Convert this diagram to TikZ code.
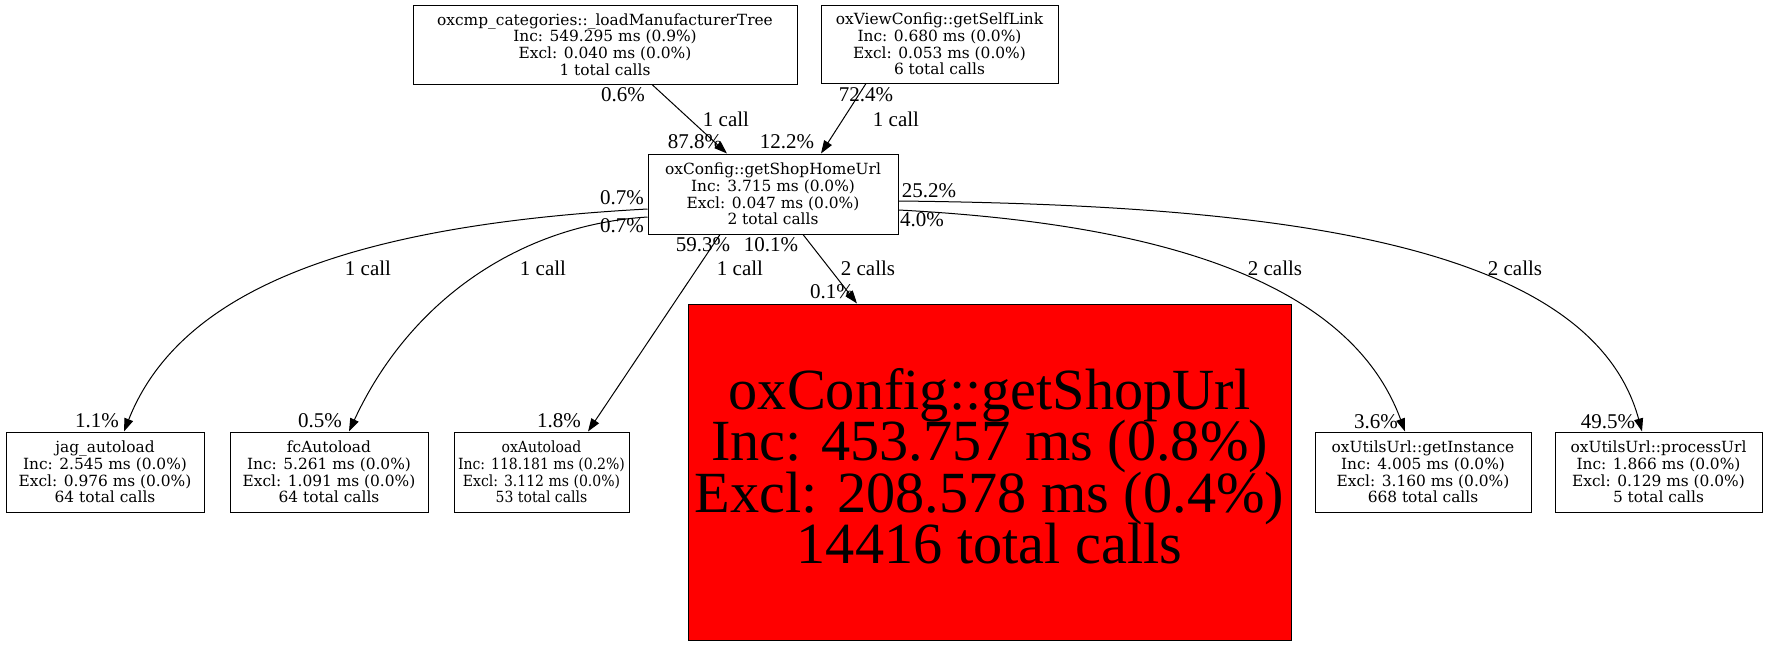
\documentclass[tikz,border=0pt]{standalone}
\usepackage{fontspec}
\setmainfont{Liberation Serif}
\newfontfamily\nodefont{DejaVu Serif}
\newfontfamily\nodefontn[FakeStretch=0.91]{DejaVu Serif}
\usetikzlibrary{arrows.meta}
\tikzset{
  box/.style={draw, line width=1pt, inner sep=0pt, align=center,
    font=\nodefont\fontsize{15.4}{16.7}\selectfont},
  narrowbox/.style={box, font=\nodefontn\fontsize{15.4}{16.7}\selectfont},
  bigbox/.style={draw, line width=1pt, inner sep=0pt, fill=red},
  bigtext/.style={inner sep=0pt, align=center,
    font={\fontsize{58.3}{51.5}\selectfont\lineskiplimit=-100pt\relax}},
  lab/.style={inner sep=0pt, font=\fontsize{21}{24}\selectfont},
  arr/.style={-{Triangle[length=13pt,width=9pt]}, line width=1pt},
}
\begin{document}
\begin{tikzpicture}[x=1pt,y=-1pt]
\useasboundingbox (0,0) rectangle (1768,645);
\fill[white] (0,0) rectangle (1768,645);
% nodes
\node[box, minimum width=384pt, minimum height=79pt] (A) at (605,44.5)
  {oxcmp\_categories::\_loadManufacturerTree\\Inc: 549.295 ms (0.9\%)\\Excl: 0.040 ms (0.0\%)\\1 total calls};
\node[box, minimum width=237pt, minimum height=78pt] (B) at (939.5,44)
  {oxViewConfig::getSelfLink\\Inc: 0.680 ms (0.0\%)\\Excl: 0.053 ms (0.0\%)\\6 total calls};
\node[box, minimum width=250pt, minimum height=80pt] (C) at (773,194)
  {oxConfig::getShopHomeUrl\\Inc: 3.715 ms (0.0\%)\\Excl: 0.047 ms (0.0\%)\\2 total calls};
\node[box, minimum width=198pt, minimum height=80pt] (jag) at (105,472)
  {jag\_autoload\\Inc: 2.545 ms (0.0\%)\\Excl: 0.976 ms (0.0\%)\\64 total calls};
\node[box, minimum width=198pt, minimum height=80pt] (fc) at (329,472)
  {fcAutoload\\Inc: 5.261 ms (0.0\%)\\Excl: 1.091 ms (0.0\%)\\64 total calls};
\node[narrowbox, minimum width=175pt, minimum height=80pt] (ox) at (541.5,472)
  {oxAutoload\\Inc: 118.181 ms (0.2\%)\\Excl: 3.112 ms (0.0\%)\\53 total calls};
\node[bigbox, minimum width=603pt, minimum height=336pt] (red) at (989.5,472) {};
\node[bigtext] (redtext) at ([yshift=5.5pt]red.center)
  {oxConfig::getShopUrl\\Inc: 453.757 ms (0.8\%)\\Excl: 208.578 ms (0.4\%)\\14416 total calls};
\node[box, minimum width=216pt, minimum height=80pt] (gI) at (1423,472)
  {oxUtilsUrl::getInstance\\Inc: 4.005 ms (0.0\%)\\Excl: 3.160 ms (0.0\%)\\668 total calls};
\node[box, minimum width=207pt, minimum height=80pt] (pU) at (1658.5,472)
  {oxUtilsUrl::processUrl\\Inc: 1.866 ms (0.0\%)\\Excl: 0.129 ms (0.0\%)\\5 total calls};
% edges
\draw[arr] ([xshift=47pt]A.south) -- ([xshift=-46pt]C.north);
\draw[arr] ([xshift=-73.5pt]B.south) -- ([xshift=48pt]C.north);
\draw[arr] ([yshift=-15pt]C.west) .. controls (350,225) and (180,290) .. ([xshift=19pt]jag.north);
\draw[arr] ([yshift=-23pt]C.west) .. controls (520,225) and (410,300) .. ([xshift=20pt]fc.north);
\draw[arr] ([xshift=-53pt]C.south) -- ([xshift=46.5pt]ox.north);
\draw[arr] ([xshift=30pt]C.south) -- ([xshift=-132.5pt]red.north);
\draw[arr] ([yshift=-16pt]C.east) .. controls (1125,222) and (1345,268) .. ([xshift=-18pt]gI.north);
\draw[arr] ([yshift=-7pt]C.east) .. controls (1270,205) and (1590,240) .. ([xshift=-16.5pt]pU.north);
% labels
\node[lab] (l1) at (623,95) {0.6\%};
\node[lab] (l2) at (726,119) {1 call};
\node[lab] (l3) at (695,142) {87.8\%};
\node[lab] (l4) at (866,95) {72.4\%};
\node[lab] (l5) at (896,119) {1 call};
\node[lab] (l6) at (787,142) {12.2\%};
\node[lab] (l7) at (622,198) {0.7\%};
\node[lab] (l8) at (622,226) {0.7\%};
\node[lab] (l9) at (929,191) {25.2\%};
\node[lab] (l10) at (922,220) {4.0\%};
\node[lab] (l11) at (703,245) {59.3\%};
\node[lab] (l12) at (771,245) {10.1\%};
\node[lab] (l13) at (368,268) {1 call};
\node[lab] (l14) at (543,268) {1 call};
\node[lab] (l15) at (740,268) {1 call};
\node[lab] (l16) at (868,268) {2 calls};
\node[lab] (l17) at (832,292) {0.1\%};
\node[lab] (l18) at (1275,268) {2 calls};
\node[lab] (l19) at (1515,268) {2 calls};
\node[lab] (l20) at (97,421) {1.1\%};
\node[lab] (l21) at (320,421) {0.5\%};
\node[lab] (l22) at (559,421) {1.8\%};
\node[lab] (l23) at (1376,422) {3.6\%};
\node[lab] (l24) at (1608,422) {49.5\%};
\end{tikzpicture}
\end{document}
